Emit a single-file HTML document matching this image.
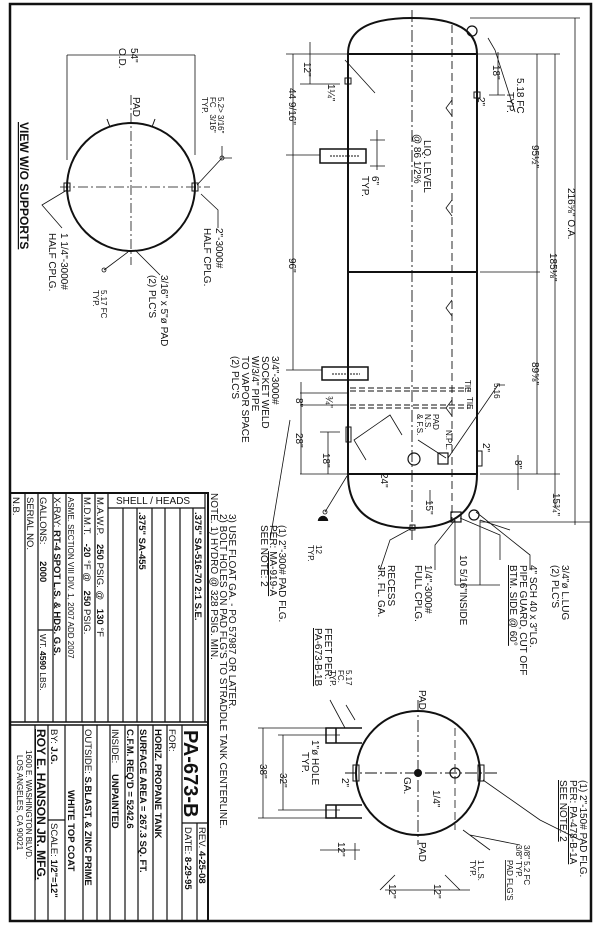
<!DOCTYPE html>
<html><head><meta charset="utf-8"><style>
html,body{margin:0;padding:0;background:#fff;}
svg{display:block;}
text{font-family:"Liberation Sans",sans-serif;fill:#111;}
</style></head><body>
<svg width="600" height="926" viewBox="0 0 600 926" xmlns="http://www.w3.org/2000/svg">
<g stroke="#111" fill="none">
<path d="M10 4 H591 V921 H10 Z" stroke-width="2.5"/>
<path d="M10 493 H208 V922" stroke-width="2"/>
<path d="M10 722 H208 M10 725 H208" stroke-width="1.5"/>
<g stroke-width="1.2">
<path d="M25 493V722 M38 493V722 M53 493V722 M66 493V722 M82 493V722 M95 493V722 M108 493V722"/>
<path d="M108 508H205 M205 493V722 M123 508V722 M137 508V722 M152 508V722 M165 508V722 M180 508V722 M193 508V722"/>
<path d="M35 725V922 M48 725V922 M65 725V922 M83 725V922 M97 725V922 M110 725V922 M125 725V922 M138 725V922 M153 725V922 M167 725V922 M182 725V922"/>
<path d="M48 820H65 M182 823H208 M197 823V922 M38 630H53"/>
</g>
<circle cx="131" cy="187" r="64" stroke-width="2"/>
<path d="M131 95V265 M60 187H210" stroke-width="0.8" stroke-dasharray="10,3,2,3"/>
<path d="M67 55V160 M195 55V155 M67 55H195" stroke-width="0.8"/>
<rect x="64" y="183" width="6" height="8" stroke-width="1"/>
<rect x="192" y="183" width="6" height="8" stroke-width="1"/>
<path d="M110 127l-3 -8 M152 127l3 -8" stroke-width="1"/>
<path d="M197 185L222 158 L232 158 M222 158 l0 -12" stroke-width="0.8"/>
<circle cx="222" cy="158" r="2" stroke-width="0.8"/>
<path d="M201 194L218 210 V228 M67 190L42 205 L62 228 M135 250L160 275 V275 M128 252L104 270" stroke-width="0.8"/>
<circle cx="104" cy="270" r="2" stroke-width="0.8"/>
<path d="M348 54 V474 Q348 528 412 528 Q477 528 477 474 V54 Q477 18 412 18 Q348 18 348 54 Z" stroke-width="2"/>
<path d="M348 54H477 M348 272H477 M348 474H477" stroke-width="2"/>
<path d="M412 10V540" stroke-width="0.9" stroke-dasharray="12,3,2,3"/>
<path d="M452 25V520" stroke-width="0.9" stroke-dasharray="8,4"/>
<path d="M452 100l-6 8 6 8 M452 200l-6 8 6 8 M452 300l-6 8 6 8 M452 400l-6 8 6 8" stroke-width="0.8"/>
<path d="M350 388H470 M350 391H470 M350 405H470 M350 408H470" stroke-width="1" stroke-dasharray="6,3"/>
<rect x="320" y="149" width="46" height="14" stroke-width="1.5"/>
<rect x="322" y="367" width="46" height="13" stroke-width="1.5"/>
<path d="M330 156H360 M332 374H360" stroke-width="1" stroke-dasharray="2,1"/>
<rect x="345" y="78" width="6" height="6" stroke-width="1"/>
<rect x="474" y="92" width="6" height="6" stroke-width="1"/>
<rect x="346" y="427" width="5" height="15" stroke-width="1"/>
<rect x="477" y="451" width="5" height="15" stroke-width="1"/>
<circle cx="414" cy="459" r="6" stroke-width="1.2"/>
<rect x="438" y="453" width="10" height="11" stroke-width="1.2"/>
<circle cx="472" cy="31" r="5" stroke-width="1.2"/>
<circle cx="474" cy="515" r="5" stroke-width="1.2"/>
<rect x="451" y="512" width="10" height="10" stroke-width="1.2"/>
<rect x="410" y="525" width="5" height="5" stroke-width="1"/>
<path d="M366 460l-12 -20 36 -25 12 20" stroke-width="0.8"/>
<g stroke-width="0.8">
<path d="M575 18V525 M555 54V508 M537 54V474 M470 18H580 M470 54H560 M480 272H540 M480 474H560 M480 522H590"/>
<path d="M293 54V370 M286 54H348 M286 155H320 M286 370H322 M310 42V84 M300 84H340"/>
<path d="M301 382V474 M300 393H348 M300 405H348 M300 474H348 M328 432V474 M320 432H340"/>
<path d="M377 130V170 M370 140H385 M370 166H385"/>
<path d="M498 52V95 M489 95H505 M518 455V490 M430 490V505 M515 112L495 50 L488 38"/>
<path d="M375 93L345 60 M446 458L418 440 M448 458L498 385 L505 385"/>
</g>
<g stroke-width="0.8">
<path d="M347 476L325 512 M412 528L390 540 L380 570 M455 520L435 545 V570 M460 518L500 535 V560 M476 512L530 555 V570 M480 520L510 530"/>
<path d="M290 420L270 540 M455 520L455 585 M480 520L480 585 M455 585H500"/>
</g>
<circle cx="325" cy="512" r="2" stroke-width="0.8"/>
<path d="M318 521a5 5 0 0 1 10 0" fill="#111" stroke-width="0.5"/>
<circle cx="418" cy="773" r="62" stroke-width="2"/>
<path d="M418 700V845 M345 773H500" stroke-width="0.9" stroke-dasharray="12,3,2,3"/>
<path d="M455 728V830" stroke-width="0.8" stroke-dasharray="8,4"/>
<circle cx="455" cy="773" r="5" stroke-width="1.2"/>
<circle cx="418" cy="773" r="3.5" fill="#111"/>
<rect x="353" y="765" width="6" height="16" stroke-width="1"/>
<rect x="478" y="765" width="6" height="16" stroke-width="1"/>
<path d="M362 728H326V743H362 M362 805H326V818H362 M336 728V743 M336 805V818" stroke-width="1.5"/>
<g stroke-width="0.8">
<path d="M263 728V818 M258 728H326 M258 818H326 M283 735V810 M278 735H340 M278 810H340"/>
<path d="M355 843V860 M320 850H345 M345 850H360 M395 875L380 890 M445 875L460 890 M385 890H470"/>
<path d="M330 700L345 728 M346 705L355 720 M483 780L540 820 L580 840 M470 835L520 845 M463 830L490 850"/>
</g>
</g>
<g>
<text transform="translate(20,122) rotate(90)" font-size="12" font-weight="bold" text-decoration="underline">VIEW W/O SUPPORTS</text>
<text transform="translate(131,48) rotate(90)" font-size="10">54"</text>
<text transform="translate(119,48) rotate(90)" font-size="10">O.D.</text>
<text transform="translate(133,97) rotate(90)" font-size="10">PAD</text>
<text transform="translate(218,97) rotate(90)" font-size="8">5.2&gt; 3/16"</text>
<text transform="translate(210,97) rotate(90)" font-size="8">FC &#160;&#160;3/16"</text>
<text transform="translate(202,97) rotate(90)" font-size="8">TYP.</text>
<text transform="translate(216,228) rotate(90)" font-size="10">2"-3000#</text>
<text transform="translate(204,228) rotate(90)" font-size="10">HALF CPLG.</text>
<text transform="translate(61,233) rotate(90)" font-size="10">1 1/4"-3000#</text>
<text transform="translate(49,233) rotate(90)" font-size="10">HALF CPLG.</text>
<text transform="translate(161,275) rotate(90)" font-size="10">3/16" x 5"ø PAD</text>
<text transform="translate(149,275) rotate(90)" font-size="10">(2) PLC'S</text>
<text transform="translate(101,290) rotate(90)" font-size="8">5.17 FC</text>
<text transform="translate(93,290) rotate(90)" font-size="8">TYP.</text>
<g font-size="10">
<text transform="translate(272,356) rotate(90)">3/4"-3000#</text>
<text transform="translate(262,356) rotate(90)">SOCKET WELD</text>
<text transform="translate(252,356) rotate(90)">W/3/4" PIPE</text>
<text transform="translate(242,356) rotate(90)">TO VAPOR SPACE</text>
<text transform="translate(232,356) rotate(90)">(2) PLC'S</text>
<text transform="translate(289,88) rotate(90)">44 9/16"</text>
<text transform="translate(289,258) rotate(90)">96"</text>
<text transform="translate(304,62) rotate(90)">12"</text>
<text transform="translate(328,84) rotate(90)">1¼"</text>
<text transform="translate(372,176) rotate(90)">6"</text>
<text transform="translate(362,176) rotate(90)">TYP.</text>
<text transform="translate(424,140) rotate(90)">LIQ. LEVEL</text>
<text transform="translate(414,134) rotate(90)">@ 86 1/2%</text>
<text transform="translate(493,65) rotate(90)">18"</text>
<text transform="translate(478,97) rotate(90)">2"</text>
<text transform="translate(517,78) rotate(90)">5.18 FC</text>
<text transform="translate(507,92) rotate(90)">TYP.</text>
<text transform="translate(532,145) rotate(90)">95½"</text>
<text transform="translate(568,188) rotate(90)">216⅝" O.A.</text>
<text transform="translate(550,253) rotate(90)">185⅛"</text>
<text transform="translate(532,362) rotate(90)">89⅝"</text>
<text transform="translate(553,493) rotate(90)">15¾"</text>
<text transform="translate(515,460) rotate(90)">8"</text>
<text transform="translate(483,443) rotate(90)">2"</text>
<text transform="translate(296,398) rotate(90)">8"</text>
<text transform="translate(326,396) rotate(90)">¾"</text>
<text transform="translate(296,433) rotate(90)">28"</text>
<text transform="translate(323,453) rotate(90)">18"</text>
<text transform="translate(381,473) rotate(90)">24"</text>
<text transform="translate(426,500) rotate(90)">15"</text>
</g>
<g font-size="8">
<text transform="translate(494,383) rotate(90)">5.16</text>
<text transform="translate(465,380) rotate(90)">TIE</text>
<text transform="translate(467,397) rotate(90)">TIE</text>
<text transform="translate(446,430) rotate(90)">N.PL.</text>
<text transform="translate(433,414) rotate(90)">PAD</text>
<text transform="translate(425,414) rotate(90)">N.S.</text>
<text transform="translate(417,414) rotate(90)">&amp; F.S.</text>
<text transform="translate(316,545) rotate(90)">12</text>
<text transform="translate(308,545) rotate(90)">TYP.</text>
<text transform="translate(346,670) rotate(90)">5.17</text>
<text transform="translate(338,670) rotate(90)">FC.</text>
<text transform="translate(330,670) rotate(90)">TYP.</text>
<text transform="translate(524,845) rotate(90)">3/8" 5.2 FC</text>
<text transform="translate(516,845) rotate(90)">3/8" TYP.</text>
<text transform="translate(507,860) rotate(90)" text-decoration="underline">PAD FLG'S</text>
<text transform="translate(478,860) rotate(90)">1 L.S.</text>
<text transform="translate(470,860) rotate(90)">TYP.</text>
</g>
<g font-size="10">
<text transform="translate(279,525) rotate(90)">(1) 2"-300# PAD FLG.</text>
<text transform="translate(270,525) rotate(90)">PER: <tspan text-decoration="underline">MA-919-A</tspan></text>
<text transform="translate(261,525) rotate(90)">SEE NOTE: 2</text>
<text transform="translate(388,565) rotate(90)">RECESS</text>
<text transform="translate(378,565) rotate(90)">JR. FL. GA.</text>
<text transform="translate(425,565) rotate(90)">1/4"-3000#</text>
<text transform="translate(415,565) rotate(90)">FULL CPLG.</text>
<text transform="translate(460,555) rotate(90)">10 5/16"INSIDE</text>
<text transform="translate(530,565) rotate(90)">4" SCH 40 x 3"LG.</text>
<text transform="translate(520,565) rotate(90)">PIPE GUARD, CUT OFF</text>
<text transform="translate(510,565) rotate(90)" text-decoration="underline">BTM. SIDE @ 60°</text>
<text transform="translate(562,565) rotate(90)">3/4"ø L.LUG</text>
<text transform="translate(552,565) rotate(90)">(2) PLC'S</text>
<text transform="translate(325,628) rotate(90)">FEET PER:</text>
<text transform="translate(315,628) rotate(90)" text-decoration="underline">PA-673-B-1B</text>
<text transform="translate(419,690) rotate(90)">PAD</text>
<text transform="translate(312,740) rotate(90)">1"ø HOLE</text>
<text transform="translate(302,752) rotate(90)">TYP.</text>
<text transform="translate(280,773) rotate(90)">32"</text>
<text transform="translate(260,764) rotate(90)">38"</text>
<text transform="translate(342,778) rotate(90)">2"</text>
<text transform="translate(404,777) rotate(90)">GA.</text>
<text transform="translate(433,790) rotate(90)">1/4"</text>
<text transform="translate(338,842) rotate(90)">12"</text>
<text transform="translate(419,842) rotate(90)">PAD</text>
<text transform="translate(389,884) rotate(90)">12"</text>
<text transform="translate(434,884) rotate(90)">12"</text>
<text transform="translate(580,780) rotate(90)">(1) 2"-150# PAD FLG.</text>
<text transform="translate(570,780) rotate(90)">PER: <tspan text-decoration="underline">PA-478-B-1A</tspan></text>
<text transform="translate(560,780) rotate(90)" text-decoration="underline">SEE NOTE: 2</text>
</g>
<g font-size="10">
<text transform="translate(211,493) rotate(90)">NOTE. 1) HYDRO @ 328 PSIG. MIN.</text>
<text transform="translate(220,514) rotate(90)">2) BOLT HOLES ON PAD FLG'S TO STRADDLE TANK CENTERLINE.</text>
<text transform="translate(229,514) rotate(90)">3) USE FLOAT GA. - PO 57987 OR LATER.</text>
</g>
<g font-size="9.5">
<text transform="translate(13,497) rotate(90)">N.B.</text>
<text transform="translate(27,497) rotate(90)">SERIAL NO.</text>
<text transform="translate(40,497) rotate(90)">GALLONS: <tspan font-weight="bold" dx="14">2000</tspan></text>
<text transform="translate(40,634) rotate(90)" font-size="8.5">WT. <tspan font-weight="bold">4590</tspan> LBS.</text>
<text transform="translate(54,497) rotate(90)">X-RAY: <tspan font-weight="bold">RT-4 SPOT L.S. &amp; HDS. G.S.</tspan></text>
<text transform="translate(68,497) rotate(90)" font-size="8">ASME. SECTION VIII DIV. 1, 2007 ADD 2007</text>
<text transform="translate(84,497) rotate(90)">M.D.M.T. <tspan font-weight="bold" dx="6">-20</tspan> °F @ <tspan font-weight="bold" dx="6">250</tspan> PSIG.</text>
<text transform="translate(97,497) rotate(90)">M.A.W.P. <tspan font-weight="bold" dx="6">250</tspan> PSIG. @ <tspan font-weight="bold" dx="6">130</tspan> °F</text>
<text transform="translate(139,512) rotate(90)" font-weight="bold">.375" SA-455</text>
<text transform="translate(195,512) rotate(90)" font-weight="bold">.375" SA-516-70 2:1 S.E.</text>
<text transform="translate(184,730) rotate(90)" font-size="20" font-weight="bold">PA-673-B</text>
<text transform="translate(199,827) rotate(90)">REV. <tspan font-weight="bold">4-25-08</tspan></text>
<text transform="translate(185,827) rotate(90)">DATE: <tspan font-weight="bold">8-29-95</tspan></text>
<text transform="translate(169,729) rotate(90)">FOR:</text>
<text transform="translate(155,729) rotate(90)" font-weight="bold">HORIZ. PROPANE TANK</text>
<text transform="translate(140,729) rotate(90)" font-weight="bold">SURFACE AREA = 267.3 SQ. FT.</text>
<text transform="translate(127,729) rotate(90)" font-weight="bold">C.F.M. REQ'D = 5242.6</text>
<text transform="translate(112,729) rotate(90)">INSIDE: <tspan font-weight="bold" dx="8">UNPAINTED</tspan></text>
<text transform="translate(85,729) rotate(90)">OUTSIDE: <tspan font-weight="bold">S.BLAST, &amp; ZINC PRIME</tspan></text>
<text transform="translate(68,790) rotate(90)" font-weight="bold">WHITE TOP COAT</text>
<text transform="translate(51,729) rotate(90)">BY: <tspan font-weight="bold">J.G.</tspan></text>
<text transform="translate(51,823) rotate(90)">SCALE: <tspan font-weight="bold">1/2"=12"</tspan></text>
<text transform="translate(37,729) rotate(90)" font-family="Liberation Serif" font-size="12" font-weight="bold" text-decoration="underline">ROY E. HANSON JR. MFG.</text>
<text transform="translate(26,750) rotate(90)" font-size="8">1600 E. WASHINGTON BLVD.</text>
<text transform="translate(17,755) rotate(90)" font-size="8">LOS ANGELES, CA 90021</text>
</g>
<text x="116" y="504" font-size="10">SHELL / HEADS</text>
</g>
</svg>
</body></html>
